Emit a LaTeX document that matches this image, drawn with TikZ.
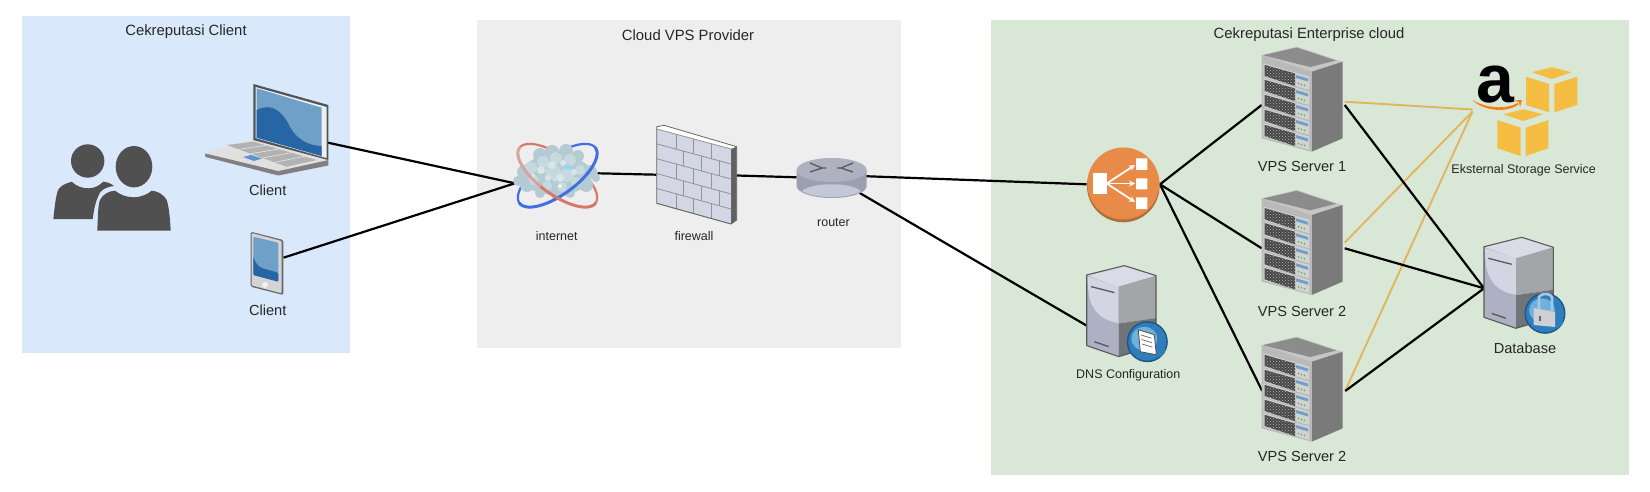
\documentclass[tikz,border=0pt]{standalone}
\usepackage{fontspec}
\setmainfont{Liberation Sans}
\usetikzlibrary{patterns,arrows.meta,calc}
\definecolor{pblue}{HTML}{DAE8FC}
\definecolor{pgray}{HTML}{EEEEEE}
\definecolor{pgreen}{HTML}{D9E8D6}
\definecolor{txt}{HTML}{262626}
\definecolor{person}{HTML}{505050}
\definecolor{scrD}{HTML}{2766A5}
\definecolor{scrL}{HTML}{6FA0C8}
\definecolor{bezel}{HTML}{50555A}
\definecolor{orangeC}{HTML}{E0B55E}
\definecolor{lbO}{HTML}{E88A48}
\definecolor{lbD}{HTML}{B06E38}
\definecolor{box}{HTML}{F5BD42}
\definecolor{towerL}{HTML}{D3D5E2}
\definecolor{towerM}{HTML}{ADB1C3}
\definecolor{towerR}{HTML}{A2A6A9}
\definecolor{towerK}{HTML}{6F7478}
\definecolor{badgeO}{HTML}{1C5688}
\definecolor{badgeM}{HTML}{2F7DBB}
\definecolor{badgeL}{HTML}{6FB0DC}
\definecolor{ringR}{HTML}{D9786A}
\definecolor{ringB}{HTML}{3F6FE0}
\definecolor{cloudA}{HTML}{B4CBD3}
\definecolor{cloudB}{HTML}{C6D9DF}
\definecolor{cloudC}{HTML}{D8E5E9}
\definecolor{brick}{HTML}{D3D6E4}
\definecolor{rtTop}{HTML}{ADB1C0}
\definecolor{rtBody}{HTML}{9BA0B0}
\definecolor{rtLow}{HTML}{C4C7D5}
\tikzset{
  panel/.style={anchor=north west,inner sep=0pt,outer sep=0pt},
  port/.style={inner sep=0pt,outer sep=0pt},
  bigl/.style={text=txt,inner sep=0pt,font=\fontsize{14.6}{16}\selectfont},
  titlel/.style={text=txt,inner sep=0pt,font=\fontsize{14.85}{16}\selectfont},
  smalll/.style={text=txt,inner sep=0pt,font=\fontsize{12.5}{14}\selectfont},
  link/.style={draw=black,line width=2.2pt},
  linko/.style={draw=orangeC,line width=1.9pt},
}
\newcommand{\serverIcon}[2]{%
\begin{scope}[shift={(#1,#2)}]
 \fill[gray!45!white] (11.7,15)--(46.7,6.7)--(92.7,21.7)--(61.7,31.7)--cycle;
 \fill[black!45] (13,15.2)--(46.7,7.5)--(86,20.5)--(60,27)--cycle;
 \fill[black!52] (61.7,31.7)--(92.7,21.7)--(92.7,98.3)--(61.7,111.7)--cycle;
 \fill[gray!55!white] (11.7,15)--(61.7,31.7)--(61.7,111.7)--(11.7,98.3)--cycle;
 \foreach \k in {0,...,4}{
  \pgfmathsetmacro{\dd}{15*\k}
  \begin{scope}[yshift=-\dd pt]
   \fill[gray!35!white] (13.3,23.3)--(59.3,36.7)--(59.3,50)--(13.3,37)--cycle;
   \fill[black!72] (14.5,24.8)--(45,33.5)--(45,46)--(14.5,36)--cycle;
   \fill[pattern=crosshatch dots,pattern color=gray!60!white] (14.5,24.8)--(45,33.5)--(45,46)--(14.5,36)--cycle;
   \fill[scrL] (46,35)--(58,38.5)--(58,41.5)--(46,38)--cycle;
   \fill[green!45!gray] (48.5,43.5) circle[radius=.9pt] (51.5,44.5) circle[radius=.9pt] (54.5,45.4) circle[radius=.9pt];
  \end{scope}
 }
\end{scope}}
\newcommand{\towerIcon}[2]{%
\begin{scope}[shift={(#1,#2)}]
 \fill[towerM] (0,0)--(32,11.6)--(32,81.6)--(0,70.6)--cycle;
 \fill[towerL] (0,1)--(32,11.6)--(32,48) .. controls (15,46) and (4,35) .. (2,18) -- cycle;
 \fill[towerL!85!white] (0,0)--(37.7,-9.4)--(69.3,.6)--(32,11.6)--cycle;
 \fill[towerR] (32,11.6)--(69.3,.6)--(69.3,43)--(32,48.5)--cycle;
 \fill[towerK] (32,48.5)--(69.3,43)--(69.3,70.6)--(32,81.6)--cycle;
 \draw[black!65,line width=1.1pt,line join=round] (0,0)--(37.7,-9.4)--(69.3,.6)--(69.3,70.6)--(32,81.6)--(0,70.6)--cycle;
 \draw[black!65,line width=1.3pt] (4.3,11.6)--(27.7,17.6) (7.7,66.7)--(22,71.6);
\end{scope}}
\newcommand{\badgeBase}[2]{%
 \fill[badgeO] (#1,#2) circle[radius=20.5pt];
 \fill[badgeM] (#1,#2) circle[radius=19pt];
 \fill[badgeL] (#1-3,#2-3) ellipse[x radius=13pt,y radius=12pt];
 \fill[badgeM] (#1+6,#2+9) ellipse[x radius=12pt,y radius=7pt];
}
\newcommand{\ringarc}[5]{\draw[#1,line width=#5,line cap=round] plot[domain=#2:#3,samples=40,smooth] ({557.5+47*cos(\x)*cos(#4)-19*sin(\x)*sin(#4)},{175.5+47*cos(\x)*sin(#4)+19*sin(\x)*cos(#4)});}
\begin{document}
\begin{tikzpicture}[x=1pt,y=-1pt]
\useasboundingbox (0,0) rectangle (1650,492);
% panels
\node[panel,fill=pblue,minimum width=327.5pt,minimum height=337pt] (pclient) at (22,16) {};
\node[panel,fill=pgray,minimum width=423.5pt,minimum height=327.5pt] (pcloud) at (477,20) {};
\node[panel,fill=pgreen,minimum width=638.5pt,minimum height=455pt] (pent) at (990.5,20) {};
\node[titlel] (tclient) at (186,31.7) {Cekreputasi Client};
\node[titlel] (tcloud) at (688,35) {Cloud VPS Provider};
\node[titlel] (tent) at (1309,35) {Cekreputasi Enterprise cloud};
% icon ports
\node[port,minimum width=123pt,minimum height=92pt] (laptop) at (266.5,142.7) {};
\node[port,minimum width=33pt,minimum height=64pt] (tablet) at (267,257.7) {};
\node[port,minimum width=82.7pt,minimum height=55pt] (net) at (556.2,178) {};
\node[port,minimum width=80pt,minimum height=98pt] (wall) at (696.7,175.5) {};
\node[port,minimum width=70pt,minimum height=40pt] (router) at (831.7,178) {};
\node[port,minimum size=73.4pt] (lb) at (1123.3,184.3) {};
\node[port,minimum width=69.3pt,minimum height=91pt] (dns) at (1121.4,310) {};
\node[port,minimum width=83pt,minimum height=118pt] (srvA) at (1303.2,105) {};
\node[port,minimum width=83pt,minimum height=118pt] (srvB) at (1303.2,248.3) {};
\node[port,minimum width=83pt,minimum height=118pt] (srvC) at (1303.7,391) {};
\node[port,minimum width=30pt,minimum height=30pt] (amazon) at (1487.5,109.5) {};
\node[port,minimum width=69.3pt,minimum height=91pt] (db) at (1518.7,288.3) {};
% connectors
\draw[link] (laptop.east) -- ([yshift=-5.3pt]net.west);
\draw[link] (tablet.east) -- ([yshift=-5.3pt]net.west);
\draw[link] ([yshift=4.7pt]net.east) -- ([yshift=.8pt]wall.west);
\draw[link] (wall.east) -- ([yshift=.7pt]router.west);
\draw[link] ([xshift=-7pt,yshift=2pt]router.east) -- (lb.west);
\draw[link] ([xshift=-7pt,yshift=-15pt]router.east) -- ([yshift=-15.7pt]dns.west);
\draw[link] (lb.east) -- (srvA.west);
\draw[link] (lb.east) -- (srvB.west);
\draw[link] (lb.east) -- (srvC.west);
\draw[linko] ([yshift=3.3pt]srvA.east) -- (amazon.west);
\draw[linko] ([yshift=5.7pt]srvB.east) -- ([yshift=-2pt]amazon.west);
\draw[linko] ([yshift=.3pt]srvC.east) -- ([yshift=-2pt]amazon.west);
\draw[link] (srvA.east) -- (db.west);
\draw[link] (srvB.east) -- (db.west);
\draw[link] (srvC.east) -- (db.west);
% users
\fill[person] (87.7,161) circle[radius=16.7pt];
\fill[person] (53.3,219) .. controls (55,205) and (56,192) .. (59.3,188.3) .. controls (63,184) and (68,183) .. (71.7,181.7) .. controls (76,186) and (82,188.3) .. (88.3,188.3) .. controls (94,188.3) and (99,186) .. (103.3,181.7) .. controls (107,182) and (111,183.5) .. (114,186) .. controls (106,187) and (100,190) .. (98.3,196) .. controls (95,203) and (94,210) .. (92.7,219) -- cycle;
\fill[person] (134,166.7) ellipse[x radius=18.3pt,y radius=20.7pt];
\fill[person] (97.3,230.7) .. controls (98,215) and (98,205) .. (100,200) .. controls (103,194) and (109,191) .. (115,190.7) .. controls (119,194) and (126,197.3) .. (133.3,197.3) .. controls (141,197.3) and (148,194) .. (151.7,190.7) .. controls (158,191) and (164,195) .. (166.7,200) .. controls (169,207) and (170,218) .. (170.7,230.7) -- cycle;
% laptop
\fill[black!50] (205,153.3)--(205.5,157)--(278.3,175.5)--(328.3,165.5)--(328.3,160)--cycle;
\fill[black!12] (205,153.3)--(253.3,139.3)--(328.3,160)--(278.3,171)--cycle;
\fill[black!30] (226.7,145)--(253.3,141.7)--(316.7,160)--(286.7,166.7)--cycle;
\foreach \t in {.2,.4,.6,.8}{
 \draw[black!12,line width=.7pt] ($(226.7,145)!\t!(286.7,166.7)$) -- ($(253.3,141.7)!\t!(316.7,160)$);
}
\fill[cyan!50!blue!65!white] (243,157)--(251,155)--(262,158.5)--(254,161)--cycle;
\fill[bezel] (253.3,84)--(328.3,105)--(328.3,160)--(253.3,140)--cycle;
\fill[black!6] (255.5,87)--(326.5,107)--(326.5,158)--(255.5,138)--cycle;
\fill[scrL] (256.7,88.3)--(321.7,107.7)--(321.7,156)--(256.7,137.7)--cycle;
\fill[scrD] (256.7,110) .. controls (272,102) and (283,112) .. (290,127) .. controls (297,140) and (310,146) .. (321.7,146) -- (321.7,156) -- (256.7,137.7) -- cycle;
% tablet
\fill[black!60,rounded corners=1.5pt] (250.7,231.7)--(283.3,240)--(283.3,295)--(250.7,286.7)--cycle;
\fill[black!17,rounded corners=1pt] (251.7,233)--(281.6,241)--(281.6,293.3)--(251.7,285.5)--cycle;
\fill[scrL,rounded corners=1pt] (253.3,236.7)--(278.3,242.7)--(278.3,281.7)--(253.3,275)--cycle;
\fill[scrD,rounded corners=1pt] (253.3,256) .. controls (257,270) and (265,268) .. (278.3,273) -- (278.3,281.7)--(253.3,275)--cycle;
\fill[black!5] (265,285) circle[radius=3pt];
\node[bigl] (lc1) at (267.7,190) {Client};
\node[bigl] (lc2) at (267.7,310) {Client};
% internet
\ringarc{ringR}{180}{360}{36}{2.2pt}
\ringarc{ringB}{180}{360}{-36}{2.2pt}
\fill[cloudA] (556,175) ellipse[x radius=36pt,y radius=20pt];
\foreach \a/\b/\r in {524/172/7,527/185/7,518/181/5,590/172/7,586/185/7,596/178/4,540/155/7,552/152/7,566/151/7,578/156/6,540/193/5,556/195/5,570/193/5}{\fill[cloudA] (\a,\b) circle[radius=\r pt];}
\foreach \a/\b/\r in {531/168/6,543/162/6,556/158/6,570/160/6,580/170/5,576/182/5,562/187/5,547/186/5,534/180/5,553/172/8,567/175/7}{\fill[cloudB] (\a,\b) circle[radius=\r pt];}
\foreach \a/\b/\r in {541/170/4,552/165/4,560/178/4,548/178/3,574/172/3,533/176/2.5,563/163/3}{\fill[cloudC] (\a,\b) circle[radius=\r pt];}
\fill[cyan!45!white] (568,167) circle[radius=3pt];
\fill[cyan!25!white] (555,180) circle[radius=1.6pt];
\fill[white] (560,186) circle[radius=1.8pt];
\ringarc{ringB}{0}{180}{-36}{3pt}
\ringarc{ringR}{0}{100}{36}{3pt}
\ringarc{ringR!60!cloudC}{100}{180}{36}{3pt}
\node[smalll] (lnet) at (556.7,235.7) {internet};
% firewall
\fill[white] (656.7,126.7)--(664,125.3)--(736.7,146.7)--(731,149)--(656.7,129)--cycle;
\fill[black!62] (731,149)--(736.7,146.7)--(736.7,220)--(731,224)--cycle;
\fill[brick] (656.7,129)--(731,149)--(731,224)--(656.7,203.3)--cycle;
\begin{scope}[draw=black!42,line width=.8pt]
\foreach \k in {0,...,5}{
 \pgfmathsetmacro{\ya}{129+14.86*\k}
 \pgfmathsetmacro{\yb}{149+15*\k}
 \draw (656.7,\ya)--(731,\yb);
}
\foreach \k/\u in {0/.26,0/.5,0/.74,1/.36,1/.6,1/.85,2/.26,2/.5,2/.74,3/.36,3/.6,3/.85,4/.26,4/.5,4/.74}{
 \pgfmathsetmacro{\xa}{656.7+74.3*\u}
 \pgfmathsetmacro{\ya}{129+14.86*\k+20.1*\u}
 \pgfmathsetmacro{\yb}{\ya+14.9}
 \draw (\xa,\ya)--(\xa,\yb);
}
\end{scope}
\draw[black!60,line width=.8pt,line join=round] (656.7,126.7)--(664,125.3)--(736.7,146.7)--(736.7,220)--(731,224)--(656.7,203.3)--cycle;
\draw[black!60,line width=.8pt] (731,149)--(731,224);
\node[smalll] (lwall) at (694,235.7) {firewall};
% router
\fill[rtBody] (796.7,170)--(796.7,186) arc[start angle=180,end angle=360,x radius=35pt,y radius=12pt]--(866.7,170)--cycle;
\fill[rtLow] (802,191) .. controls (812,182) and (851,182) .. (861,191) .. controls (850,199) and (813,199) .. (802,191) -- cycle;
\fill[rtTop] (831.7,170) ellipse[x radius=35pt,y radius=12pt];
\draw[black!65,line width=1.3pt] (810,163)--(822,168)--(810,172) (853,163)--(841,168)--(853,172) (822,168)--(826,168) (841,168)--(837,168);
\node[smalll] (lrouter) at (833.5,223) {router};
% load balancer
\fill[lbD] (1123.3,186) circle[radius=36.3pt];
\fill[lbO] (1123.3,183.5) circle[radius=36pt];
\fill[white] (1092.7,173.3) rectangle (1106.7,194);
\fill[white] (1136,158.3) rectangle (1147.3,170) (1136,178.3) rectangle (1147.3,189.3) (1136,197.3) rectangle (1147.3,209);
\draw[white,line width=1.8pt,-{Stealth[length=6pt,width=6pt]}] (1106.7,183.5)--(1135,165);
\draw[white,line width=1.8pt,-{Stealth[length=6pt,width=6pt]}] (1106.7,183.5)--(1135,183.5);
\draw[white,line width=1.8pt,-{Stealth[length=6pt,width=6pt]}] (1106.7,183.5)--(1135,202);
% dns
\towerIcon{1086.7}{275}
\badgeBase{1147.3}{341.7}
\fill[white,draw=black!70,line width=.8pt] (1138.3,329.7)--(1154.3,334.7)--(1156.3,354.7)--(1140.3,351.7)--cycle;
\draw[black!60,line width=.7pt] (1141,335)--(1151.5,338.2) (1141.5,339.5)--(1152,342.7) (1142,344)--(1152.5,347.2);
\node[smalll] (ldns) at (1128.3,375) {DNS Configuration};
% servers
\serverIcon{1250}{40}
\serverIcon{1250}{183.3}
\serverIcon{1250}{330}
\node[bigl] (ls1) at (1302,166) {VPS Server 1};
\node[bigl] (ls2) at (1302,311) {VPS Server 2};
\node[bigl] (ls3) at (1302,456) {VPS Server 2};
% amazon
\node[inner sep=0pt,text=black,font=\fontsize{68}{68}\selectfont\bfseries] (aglyph) at (1495,85) {a};
\fill[orange!85!brown] (1472.3,100) .. controls (1485,108) and (1505,110) .. (1518,103) -- (1518.5,104.5) .. controls (1505,114) and (1482,110) .. (1472.3,100) -- cycle;
\fill[orange!85!brown] (1513,100.5)--(1522,100)--(1520,107)--(1519,102)--cycle;
\fill[box] (1531.7,72.3)--(1551.7,67.3)--(1571.7,72.3)--(1551.7,79)--cycle;
\fill[box] (1526,76.7)--(1549,84)--(1549,112.3)--(1526,105)--cycle;
\fill[box] (1554.3,84)--(1577.3,76.7)--(1577.3,105)--(1554.3,112.3)--cycle;
\fill[box] (1503.3,114.3)--(1523.3,109.3)--(1543.3,114.3)--(1523.3,121)--cycle;
\fill[box] (1497.3,120)--(1520.7,127.7)--(1520.7,156)--(1497.3,148.3)--cycle;
\fill[box] (1525.7,127.7)--(1548.3,120)--(1548.3,148.3)--(1525.7,156)--cycle;
\node[smalll] (lstore) at (1523.7,170) {Eksternal Storage Service};
% database
\towerIcon{1484}{246.7}
\badgeBase{1545}{313.3}
\draw[black!6!badgeL!60!white,line width=2.6pt] (1539,311) -- (1539,298) arc[start angle=180,end angle=360,x radius=6.5pt,y radius=-4pt] -- (1552,311);
\fill[blue!8!gray!35!white] (1533.5,308) -- (1555,312) -- (1555,327) -- (1533.5,325) -- cycle;
\fill[black!60] (1538.5,316) rectangle (1540.5,321);
\node[bigl] (ldb) at (1525,348.3) {Database};
\end{tikzpicture}
\end{document}
